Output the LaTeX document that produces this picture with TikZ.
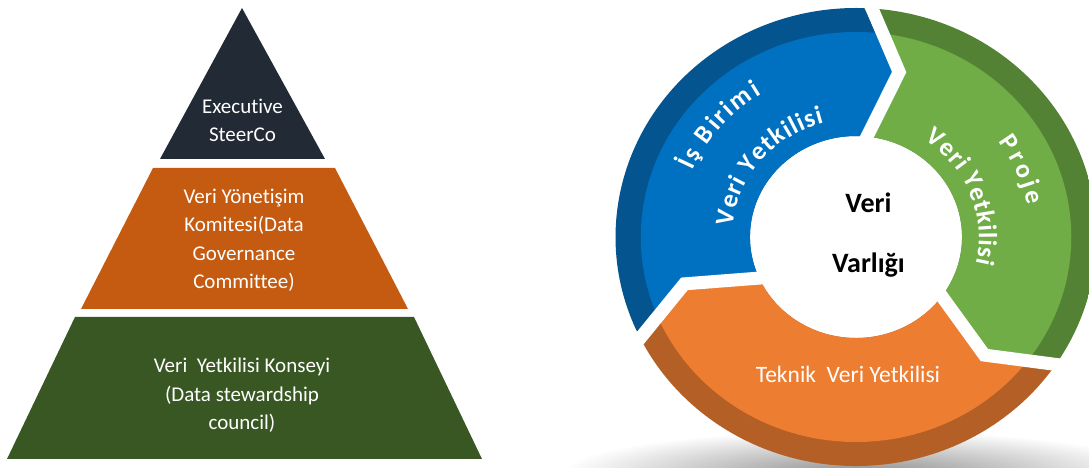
\documentclass[tikz,border=0pt]{standalone}
\usepackage{fontspec}
\setmainfont{Carlito}[Ligatures=NoCommon]
\usepackage{tikz}
\usetikzlibrary{decorations.text}

\definecolor{navy}{HTML}{222A35}
\definecolor{rust}{HTML}{C55A11}
\definecolor{forest}{HTML}{385723}
\definecolor{bluedark}{HTML}{04548F}
\definecolor{bluelight}{HTML}{0070C0}
\definecolor{greendark}{HTML}{548235}
\definecolor{greenlight}{HTML}{70AD47}
\definecolor{orangedark}{HTML}{B45F25}
\definecolor{orangelight}{HTML}{ED7D31}

\begin{document}
\begin{tikzpicture}[x=1pt,y=1pt,
    tiertext/.style={text=white,align=center,anchor=base,font=\fontsize{21}{28.5}\selectfont},
    bowtext/.style={decorate,decoration={text effects along path,text={#1},
        text effects/.cd,text along path,fit text to path,
        characters={text=white,scale=1.3}}},
    gap/.style={white,line width=13pt,line join=miter}]
\clip (0,0) rectangle (1089,468);

% shadow under the wheel
\shade [inner color=black!45,outer color=white] (860,-6) ellipse [x radius=300,y radius=44];

% pyramid
\fill [navy] (242,460) -- (325,309) -- (160,309) -- cycle;
\fill [rust] (153,300) -- (335,300) -- (408,159) -- (81,159) -- cycle;
\fill [forest] (75,151) -- (414,151) -- (482,9) -- (7,9) -- cycle;

\node [tiertext] (steerco) at (242.5,326) {Executive\\SteerCo};
\node [tiertext] (komite) at (244,179) {Veri Yönetişim\\Komitesi(Data\\Governance\\Committee)};
\node [tiertext] (konsey) at (242,38) {Veri~ Yetkilisi Konseyi\\(Data stewardship\\council)};

% wheel
\begin{scope}[shift={(856,231)},xscale=1.05]
    \begin{scope}
        \clip (208:229) arc[start angle=208,end angle=88,radius=229] -- (76:170) -- (86:101)
            arc[start angle=86,end angle=206,radius=101] -- (196:170) -- cycle;
        \fill [bluedark] (0,0) circle (240);
        \fill [bluelight] (0,0) circle (205);
    \end{scope}
    \begin{scope}
        \clip (88:229) arc[start angle=88,end angle=-32,radius=229] -- (-44:170) -- (-34:101)
            arc[start angle=-34,end angle=86,radius=101] -- (76:170) -- cycle;
        \fill [greendark] (0,0) circle (240);
        \fill [greenlight] (0,0) circle (205);
    \end{scope}
    \begin{scope}
        \clip (-32:229) arc[start angle=-32,end angle=-152,radius=229] -- (-164:170) -- (-154:101)
            arc[start angle=-154,end angle=-34,radius=101] -- (-44:170) -- cycle;
        \fill [orangedark] (0,0) circle (240);
        \fill [orangelight] (0,0) circle (205);
    \end{scope}

    \draw [gap] (88:245) -- (76:170) -- (86:92);
    \draw [gap] (-32:245) -- (-44:170) -- (-34:92);
    \draw [gap] (208:245) -- (196:170) -- (206:92);

    \fontsize{20}{20}\bfseries\selectfont
    \path [bowtext={İş Birimi}] (157:169) arc[start angle=157,end angle=122,radius=169];
    \path [bowtext={Veri Yetkilisi}] (175:118) arc[start angle=175,end angle=105,radius=118];
    \path [bowtext={Proje}] (35:166) arc[start angle=35,end angle=11,radius=166];
    \path [bowtext={Veri Yetkilisi}] (56:117) arc[start angle=56,end angle=-13,radius=117];
\end{scope}

\node [text=white,anchor=base,font=\fontsize{23.5}{28}\selectfont] (teknik) at (848,85) {Teknik~ Veri Yetkilisi};
\node [anchor=base,font=\bfseries\fontsize{28}{28}\selectfont] (veri) at (868.5,255) {Veri};
\node [anchor=base,font=\bfseries\fontsize{28}{28}\selectfont] (varlik) at (868.5,195) {Varlığı};
\end{tikzpicture}
\end{document}
